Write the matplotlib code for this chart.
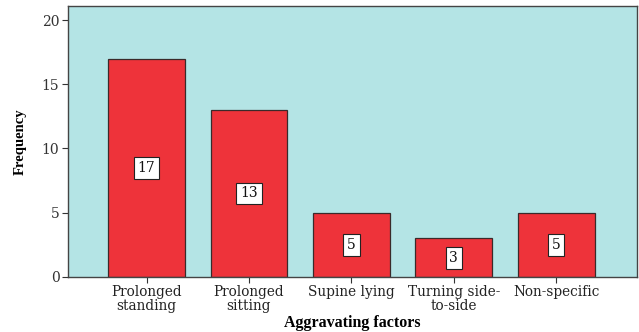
import matplotlib
matplotlib.use("Agg")
import matplotlib.pyplot as plt

# Aggravating factors and their frequencies
categories = ["Prolonged\nstanding", "Prolonged\nsitting", "Supine lying",
              "Turning side-\nto-side", "Non-specific"]
frequencies = [17, 13, 5, 3, 5]
y_ticks = [0, 5, 10, 15, 20]

fig = plt.figure(figsize=(6.39, 3.32), dpi=100)
ax = fig.add_axes([0.106, 0.166, 0.891, 0.816])
ax.set_facecolor("#b4e4e5")

x = range(len(categories))
bars = ax.bar(x, frequencies, width=0.75, color="#ee333a",
              edgecolor="#3a2a2a", linewidth=0.9, zorder=2)

for xi, v in zip(x, frequencies):
    ax.text(xi, v / 2, str(v), ha="center", va="center",
            fontsize=10, family="DejaVu Serif", color="#111111",
            bbox=dict(boxstyle="square,pad=0.28", fc="white", ec="#222222", lw=0.8),
            zorder=3)

ax.set_xlim(-0.77, 4.79)
ax.set_ylim(0, 21.1)
ax.set_yticks(y_ticks)
ax.set_xticks(list(x))
ax.set_xticklabels(categories, family="DejaVu Serif", fontsize=9.8,
                   linespacing=0.95, color="#222222")
for lab in ax.get_yticklabels():
    lab.set_family("DejaVu Serif")
    lab.set_fontsize(10)
    lab.set_color("#333333")

ax.tick_params(axis="both", direction="out", length=4, width=0.8,
               color="#333333", pad=2)
for sp in ax.spines.values():
    sp.set_color("#444444")
    sp.set_linewidth(1.0)

ax.set_xlabel("Aggravating factors", family="Liberation Serif",
              fontweight="bold", fontsize=11.5, labelpad=2)
ax.set_ylabel("Frequency", family="Liberation Serif",
              fontweight="bold", fontsize=10.5, labelpad=11)

fig.savefig("out.png", dpi=100)
